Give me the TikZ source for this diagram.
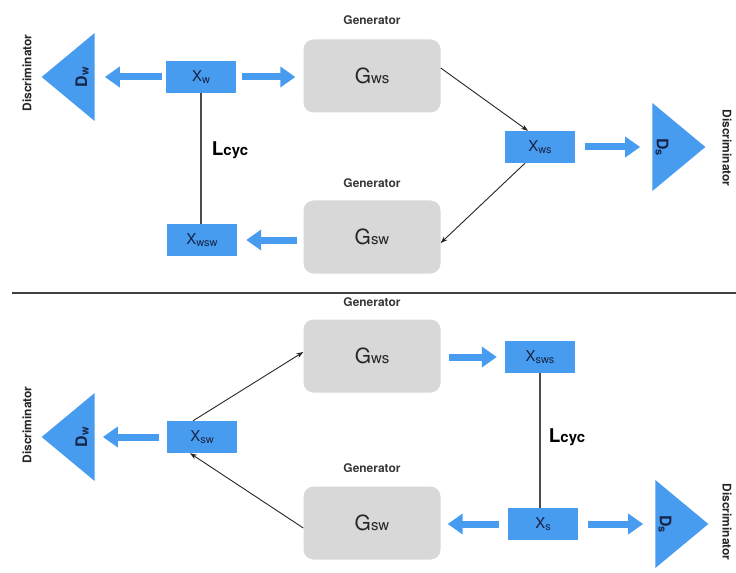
\documentclass[tikz,border=0pt]{standalone}
\usepackage{fontspec}
\setmainfont{TeX Gyre Heros}
\usetikzlibrary{arrows.meta,shapes.geometric}
\definecolor{bblue}{RGB}{72,156,240}
\definecolor{gfill}{RGB}{216,216,216}
\definecolor{navy}{RGB}{22,36,70}
\definecolor{gtext}{RGB}{55,55,55}
\newcommand{\lowsub}[1]{{\fontsize{11}{11}\selectfont\raisebox{-1.5pt}{#1}}}
\newcommand{\gsub}[1]{{\fontsize{15}{15}\selectfont #1}}
\tikzset{
  xbox/.style={fill=bblue, minimum width=70bp, minimum height=32bp, inner sep=0pt,
    text=navy, font=\fontsize{15}{15}\selectfont},
  gbox/.style={fill=gfill, rounded corners=10bp, minimum width=137bp, minimum height=73bp,
    inner sep=0pt, font=\fontsize{21}{21}\selectfont, text=black!85},
  glabel/.style={font=\bfseries\fontsize{12}{12}\selectfont, text=gtext},
  dlabel/.style={font=\bfseries\fontsize{12}{12}\selectfont, text=black!85, inner sep=1bp},
  tri/.style={fill=bblue, isosceles triangle, isosceles triangle stretches, inner sep=0pt,
    minimum height=53bp, minimum width=88bp},
  trilabel/.style={font=\bfseries\fontsize{16}{16}\selectfont, text=navy},
  barrow/.style={draw=bblue, line width=7bp, -{Triangle[width=20bp,length=15bp]}},
  thinarrow/.style={draw=black!85, line width=0.9bp, -{Stealth[length=7bp,width=5bp]}},
  cycline/.style={draw=black!70, line width=1.8bp},
  lcyc/.style={font=\bfseries\fontsize{19}{19}\selectfont, text=black}
}
\begin{document}
\begin{tikzpicture}[x=1bp,y=-1bp]
\useasboundingbox (0,0) rectangle (736,573);
\fill[white] (0,0) rectangle (736,573);

% ---------- top half ----------
\node[dlabel, rotate=90] (disc1) at (27,73) {Discriminator};
\node[tri, shape border rotate=180] (dw1) at (74,77) {};
\node[trilabel, rotate=90] (dw1l) at (82,77) {D\lowsub{w}};
\node[xbox] (xw) at (201,77) {X\lowsub{w}};
\node[glabel] (gen1) at (372,20) {Generator};
\node[gbox] (gws1) at (372,76) {G\gsub{ws}};
\node[xbox] (xws) at (540,147) {X\lowsub{ws}};
\node[tri] (ds1) at (673,147) {};
\node[trilabel, rotate=-90] (ds1l) at (662,147) {D\lowsub{s}};
\node[dlabel, rotate=-90] (disc2) at (727,148) {Discriminator};
\node[glabel] (gen2) at (372,183) {Generator};
\node[gbox] (gsw1) at (372,237) {G\gsub{sw}};
\node[xbox] (xwsw) at (202,240) {X\lowsub{wsw}};
\node[lcyc] (lc1) at (230,150) {L\gsub{cyc}};

\draw[barrow, shorten <=4bp, shorten >=10bp] (xw.west) -- (xw.west -| dw1.east);
\draw[barrow, shorten <=6bp, shorten >=8bp] (xw.east) -- (xw.east -| gws1.west);
\draw[barrow, shorten <=10bp, shorten >=12bp] (xws.east) -- (xws.east -| ds1.west);
\draw[barrow, shorten <=6bp, shorten >=9bp] (xwsw.east -| gsw1.west) -- (xwsw.east);
\draw[thinarrow] ([yshift=8bp]gws1.east) -- ([xshift=-12bp]xws.north);
\draw[thinarrow] ([xshift=-15bp]xws.south) -- ([yshift=-6bp]gsw1.east);
\draw[cycline] (xw.south) -- (xw.south |- xwsw.north);

% separator
\coordinate (sepL) at (12,293);
\coordinate (sepR) at (736,293);
\draw[draw=black!75, line width=1.8bp] (sepL) -- (sepR);

% ---------- bottom half ----------
\node[glabel] (gen3) at (372,302) {Generator};
\node[gbox] (gws2) at (372,356) {G\gsub{ws}};
\node[xbox] (xsws) at (540,357) {X\lowsub{sws}};
\node[lcyc] (lc2) at (567,437) {L\gsub{cyc}};
\node[glabel] (gen4) at (372,468) {Generator};
\node[gbox] (gsw2) at (372,523) {G\gsub{sw}};
\node[xbox] (xs) at (543,524) {X\lowsub{s}};
\node[tri] (ds2) at (676,524) {};
\node[trilabel, rotate=-90] (ds2l) at (665,524) {D\lowsub{s}};
\node[dlabel, rotate=-90] (disc4) at (727,522) {Discriminator};
\node[xbox] (xsw) at (202,437) {X\lowsub{sw}};
\node[tri, shape border rotate=180] (dw2) at (74,437) {};
\node[trilabel, rotate=90] (dw2l) at (82,437) {D\lowsub{w}};
\node[dlabel, rotate=90] (disc3) at (27,425) {Discriminator};

\draw[barrow, shorten <=8bp, shorten >=8bp] (xsws.west -| gws2.east) -- (xsws.west);
\draw[barrow, shorten <=9bp, shorten >=7bp] (xs.west) -- (xs.west -| gsw2.east);
\draw[barrow, shorten <=10bp, shorten >=12bp] (xs.east) -- (xs.east -| ds2.west);
\draw[barrow, shorten <=8bp, shorten >=8bp] (xsw.west) -- (xsw.west -| dw2.east);
\draw[cycline] ([xshift=-3bp]xs.north) -- ([xshift=-3bp]xs.north |- xsws.south);
\draw[thinarrow] ([xshift=-9bp]xsw.north) -- ([yshift=4bp]gws2.west);
\draw[thinarrow] ([yshift=-5bp]gsw2.west) -- ([xshift=-12bp]xsw.south);
\end{tikzpicture}
\end{document}
